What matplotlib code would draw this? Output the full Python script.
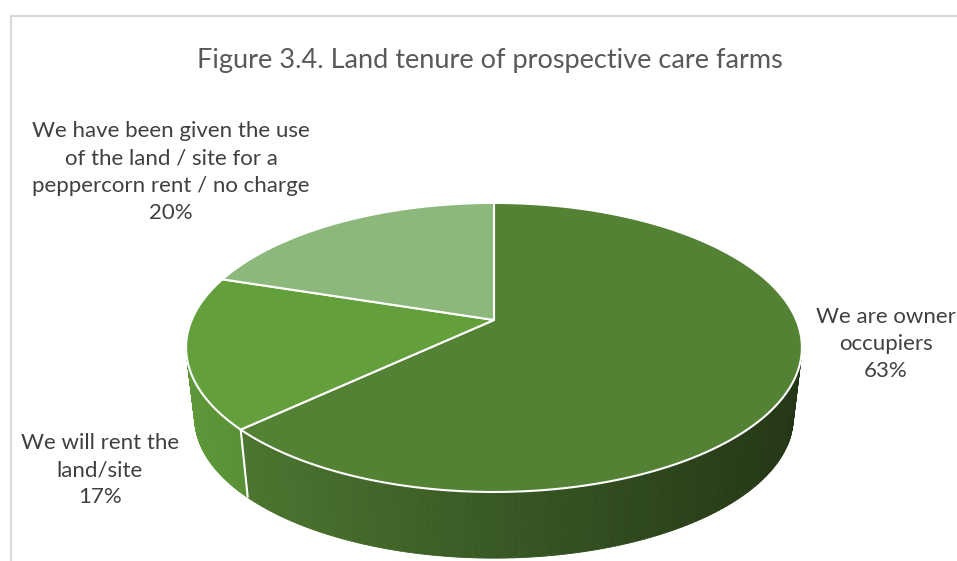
import numpy as np
import matplotlib
matplotlib.use('Agg')
import matplotlib.pyplot as plt
from matplotlib.patches import Polygon
from matplotlib.colors import to_rgb

title = 'Figure 3.4. Land tenure of prospective care farms'
labels = ['We are owner\noccupiers', 'We will rent the\nland/site',
          'We have been given the use\nof the land / site for a\npeppercorn rent / no charge']
shares = [63, 17, 20]
top_colors = ['#548235', '#63a03c', '#8cb87b']
label_pos = [(886, 344), (100, 470), (171, 172)]

W, H = 957, 561
fig = plt.figure(figsize=(W / 100, H / 100), dpi=100)
ax = fig.add_axes([0, 0, 1, 1])
ax.set_xlim(0, W)
ax.set_ylim(H, 0)
ax.axis('off')

# pie geometry in pixels, with a simple perspective tilt
cx, cy = 494, 320
A, B, k = 302.3, 139.3, 0.19
cy_bot, s_bot = 391, 0.972


def rim(t_deg, bottom=False):
    t = np.radians(t_deg)
    X, Z = np.cos(t), np.sin(t)
    d = 1 + k * Z
    x = A * X / d
    y = -B * Z / d
    if bottom:
        return cx + s_bot * x, cy_bot + s_bot * y
    return cx + x, cy + y


def shade(x):
    # side walls get darker towards the right
    return 0.95 - 0.53 * (x - 186) / 615


t_left = -180 + np.degrees(np.arcsin(k))
t_right = -np.degrees(np.arcsin(k))

cum = np.concatenate([[0], np.cumsum(shares)])
starts = 90 - 3.6 * cum[:-1]
ends = 90 - 3.6 * cum[1:]

# side walls
for t0, t1, col in zip(starts, ends, top_colors):
    lo, hi = max(t1, t_left), min(t0, t_right)
    if lo >= hi:
        continue
    ts = np.linspace(lo, hi, 120)
    base = np.array(to_rgb(col))
    for a, b in zip(ts[:-1], ts[1:]):
        xa, ya = rim(a)
        xb, yb = rim(b)
        xa2, ya2 = rim(a, True)
        xb2, yb2 = rim(b, True)
        c = np.clip(base * shade((xa + xb) / 2), 0, 1)
        ax.add_patch(Polygon([(xa, ya), (xb, yb), (xb2, yb2), (xa2, ya2)],
                             closed=True, fc=c, ec=c, lw=0.6))

# white seam down the wall where slices meet
for t in ends[:-1]:
    if t_left < t < t_right:
        x0, y0 = rim(t)
        x1, y1 = rim(t, True)
        ax.plot([x0, x1], [y0, y1], color='white', lw=1.5, solid_capstyle='butt')

# top faces
for t0, t1, col in zip(starts, ends, top_colors):
    ts = np.linspace(t0, t1, 200)
    pts = [(cx, cy)] + [rim(t) for t in ts]
    ax.add_patch(Polygon(pts, closed=True, fc=col, ec='white', lw=1.5,
                         joinstyle='round'))

# data labels
for lab, v, (x, y) in zip(labels, shares, label_pos):
    ax.text(x, y, f'{lab}\n{v}%', ha='center', va='center', fontsize=16,
            family='Lato', color='#404040', linespacing=1.45)

ax.text(490, 60, title, ha='center', va='center', fontsize=19.5,
        family='Lato', color='#595959')

# chart area border
ax.plot([11, W], [15.5, 15.5], color='#d9d9d9', lw=1.5)
ax.plot([11, 11], [15.5, H], color='#d9d9d9', lw=1.5)

fig.savefig('out.png', dpi=100)
